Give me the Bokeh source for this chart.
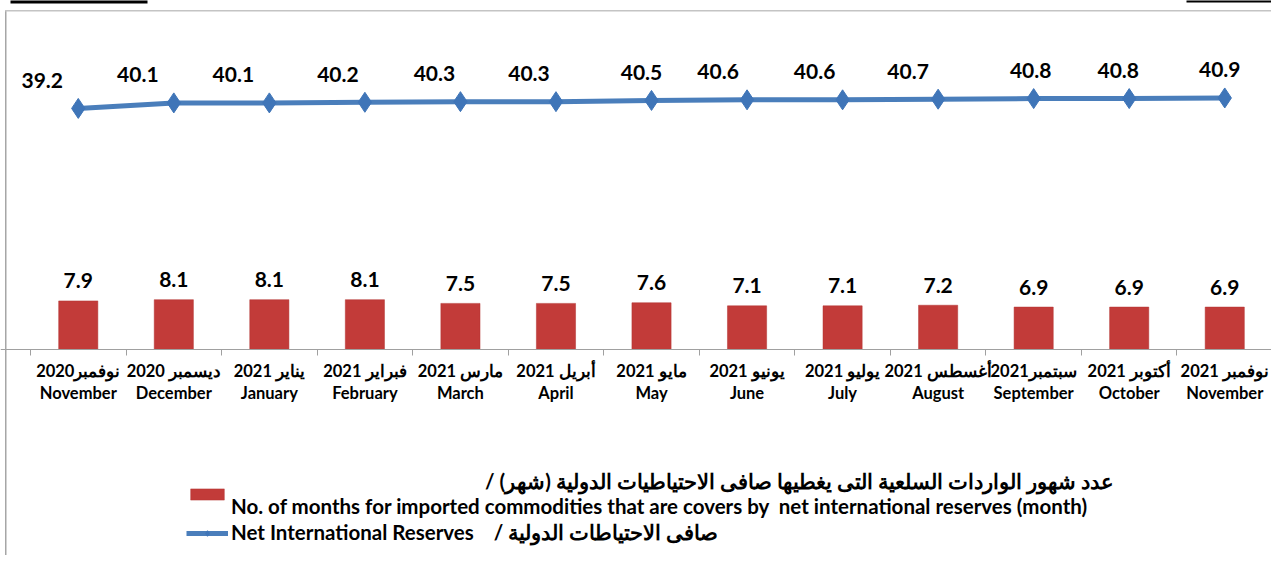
from bokeh.plotting import figure
from bokeh.models import Range1d, LinearAxis, FixedTicker, Legend, LegendItem, ColumnDataSource, BoxAnnotation
from bokeh.core.properties import value
from bokeh.embed import file_html
from bokeh.resources import INLINE

# ---------------- data ----------------
months_ar = ["نوفمبر2020", "ديسمبر 2020", "يناير 2021", "فبراير 2021", "مارس 2021", "أبريل 2021",
             "مايو 2021", "يونيو 2021", "يوليو 2021", "أغسطس 2021", "سبتمبر2021", "أكتوبر 2021", "نوفمبر 2021"]
months_en = ["November", "December", "January", "February", "March", "April",
             "May", "June", "July", "August", "September", "October", "November"]
reserves = [39.2, 40.1, 40.1, 40.2, 40.3, 40.3, 40.5, 40.6, 40.6, 40.7, 40.8, 40.8, 40.9]
months_cover = [7.9, 8.1, 8.1, 8.1, 7.5, 7.5, 7.6, 7.1, 7.1, 7.2, 6.9, 6.9, 6.9]

legend_bar_ar = "/ عدد شهور الواردات السلعية التى يغطيها صافى الاحتياطيات الدولية (شهر)"
legend_bar_en = "No. of months for imported commodities that are covers by  net international reserves (month)"
legend_line = "Net International Reserves\u00a0\u00a0\u00a0 / صافى الاحتياطات الدولية"

# label nudges (screen px) as placed in the original chart
reserve_label_dx = [-36, -36, -36, -27, -26, -27, -10, -29, -28, -30, -3, -11, -5]

# ---------------- layout ----------------
W, H = 1271, 555
FONT = "Lato"
n = len(reserves)
px_per_cat = 95.54
left_px = 30          # first category boundary, px from figure left
baseline_px = 349     # zero line, px from figure top
px_per_unit = 6.15

def dx(px):
    return (px - left_px) / px_per_cat

def dy(px):
    return (baseline_px - px) / px_per_unit

p = figure(width=W, height=H, output_backend="svg", toolbar_location=None,
           x_range=Range1d(dx(0), dx(W)), y_range=Range1d(dy(H), dy(0)),
           x_axis_location=None, y_axis_location=None,
           min_border=0, min_border_left=0, min_border_right=0, min_border_top=0, min_border_bottom=0)
p.grid.visible = False
p.outline_line_color = None
p.background_fill_color = "white"
p.border_fill_color = "white"

# chart-area border (left + top) and the cut-off black rules at the very top
p.add_layout(BoxAnnotation(left=dx(4.5), right=dx(6), top=dy(10), bottom=dy(H + 5),
                           fill_color="#a6a6a6", fill_alpha=1, line_color=None))
p.add_layout(BoxAnnotation(left=dx(4.5), right=dx(W + 5), top=dy(9.5), bottom=dy(11),
                           fill_color="#c4c4c4", fill_alpha=1, line_color=None))
p.add_layout(BoxAnnotation(left=dx(10), right=dx(147), top=dy(-1), bottom=dy(3),
                           fill_color="black", fill_alpha=1, line_color=None))
p.add_layout(BoxAnnotation(left=dx(1186), right=dx(W + 5), top=dy(-1), bottom=dy(2),
                           fill_color="black", fill_alpha=1, line_color=None))

centers = [i + 0.5 for i in range(n)]
src = ColumnDataSource(dict(
    x=centers, cover=months_cover, res=reserves,
    cover_lbl=[f"{v:.1f}" for v in months_cover],
    res_lbl=[f"{v:.1f}" for v in reserves],
    dx=reserve_label_dx,
))

bars = p.vbar(x="x", top="cover", bottom=0, width=0.41, source=src,
              fill_color="#C23B39", line_color="#B23432", line_width=0.5)
line = p.line(x="x", y="res", source=src, line_width=5, line_color="#4A7EBB")
pts = p.scatter(x="x", y="res", source=src, marker="diamond", size=20,
                fill_color="#3F75B8", line_color="#3F75B8")

p.text(x="x", y="cover", text="cover_lbl", source=src, text_align="center", text_baseline="middle",
       y_offset=-20, text_font=value(FONT), text_font_style="bold", text_font_size="21px", text_color="black")
p.text(x="x", y="res", text="res_lbl", source=src, text_align="center", text_baseline="middle",
       x_offset="dx", y_offset=-28, text_font=value(FONT), text_font_style="bold", text_font_size="21px",
       text_color="black")

# axis with boundary ticks
ax_ticks = LinearAxis(fixed_location=0, ticker=FixedTicker(ticks=list(range(n + 1))),
                      axis_line_color="#a0a0a0", axis_line_width=1.2,
                      major_tick_line_color="#a0a0a0", major_tick_out=6, major_tick_in=0,
                      minor_tick_line_color=None, major_label_text_color=None)
p.add_layout(ax_ticks, "below")

# axis with category labels
overrides = {c: f"{a}\n{e}" for c, a, e in zip(centers, months_ar, months_en)}
ax_lbl = LinearAxis(fixed_location=0, ticker=FixedTicker(ticks=centers),
                    axis_line_color=None, major_tick_line_color=None, minor_tick_line_color=None,
                    major_tick_out=0, major_tick_in=0, major_label_standoff=11,
                    major_label_overrides=overrides,
                    major_label_text_font=FONT, major_label_text_font_style="bold",
                    major_label_text_font_size="16.5px", major_label_text_color="black",
                    major_label_text_line_height=1.1)
p.add_layout(ax_lbl, "below")

pad = "\u00a0" * 51
legend = Legend(items=[
    LegendItem(label=pad + legend_bar_ar + "\n" + legend_bar_en, renderers=[bars]),
    LegendItem(label=legend_line, renderers=[line, pts]),
], location=(186, 10), orientation="vertical",
    label_text_font=FONT, label_text_font_style="bold", label_text_font_size="20.5px",
    label_text_line_height=1.65,
    label_text_color="black", border_line_color=None, background_fill_alpha=0,
    glyph_width=42, glyph_height=14, label_standoff=3, spacing=2, padding=4, margin=0)
p.add_layout(legend)

open("out.html", "w").write(file_html(p, INLINE))
